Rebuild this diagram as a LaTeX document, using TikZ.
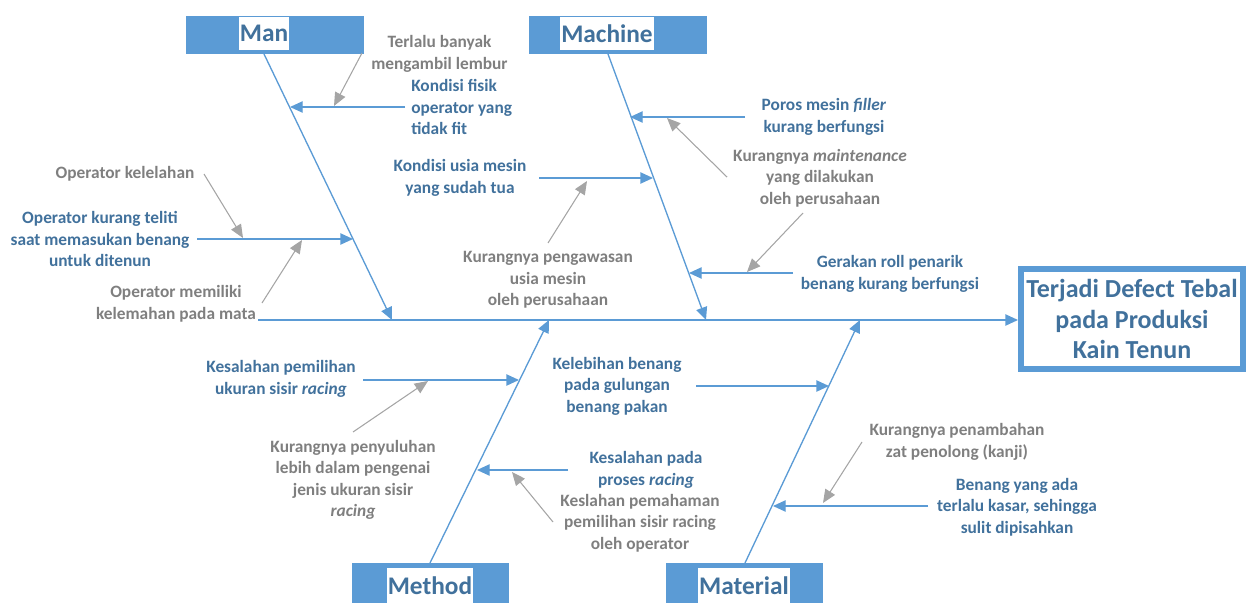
\documentclass[tikz,border=0pt]{standalone}
\usepackage{fontspec}
\setmainfont{Carlito}
\usetikzlibrary{arrows.meta}
\definecolor{bline}{HTML}{5B9BD5}
\definecolor{btext}{HTML}{41719C}
\definecolor{gtext}{HTML}{7F7F7F}
\definecolor{gline}{HTML}{A5A5A5}
\tikzset{
  cause/.style={font=\fontsize{13}{16.1}\selectfont\bfseries, text=btext, align=center, inner sep=0pt},
  sub/.style={cause, text=gtext},
  bone/.style={draw=bline, line width=1pt, -{Triangle[length=9.5pt,width=8.5pt,fill=bline]}},
  gar/.style={draw=gline, line width=0.8pt, -{Triangle[length=10pt,width=8.5pt,fill=gline]}},
  catbox/.style={fill=bline, draw=none, inner sep=0pt},
  catlabel/.style={fill=white, text=btext, font=\fontsize{19}{22}\selectfont\bfseries, inner xsep=1pt, inner ysep=0pt, minimum height=24.75pt},
}
\begin{document}
\begin{tikzpicture}[x=0.75pt,y=-0.75pt]
\useasboundingbox (0,0) rectangle (1247,603);

% category boxes
\node[catbox, minimum width=133.5pt, minimum height=28.5pt] (manbox) at (275,35) {};
\node[catlabel] (manlbl) at (264,33.5) {Man};
\node[catbox, minimum width=133.5pt, minimum height=28.5pt] (machbox) at (618,35) {};
\node[catlabel] (machlbl) at (607,33.5) {Machine};
\node[catbox, minimum width=117.75pt, minimum height=31.5pt] (methbox) at (430.5,584) {};
\node[catlabel, minimum height=27pt] (methlbl) at (430,586) {Method};
\node[catbox, minimum width=117.75pt, minimum height=31.5pt] (matbox) at (744.5,584) {};
\node[catlabel, minimum height=27pt] (matlbl) at (744,586) {Material};

% effect
\node[draw=bline, line width=4.5pt, minimum width=166.5pt, minimum height=75pt, text=btext,
      font=\fontsize{19.5}{22.9}\selectfont\bfseries, align=center, inner sep=0pt] (effect) at (1132,319)
  {Terjadi Defect Tebal\\pada Produksi\\Kain Tenun};

% spine
\coordinate (spS) at (258,320);
\draw[bone] (spS) -- (spS -| effect.west);

% main bones
\coordinate (manS) at (264,54);  \coordinate (manE) at (392,320);
\coordinate (machS) at (608,54); \coordinate (machE) at (706,320);
\coordinate (methS) at (430,563); \coordinate (methE) at (549,320);
\coordinate (matS) at (745,563);  \coordinate (matE) at (860,320);
\draw[bone] (manS) -- (manE);
\draw[bone] (machS) -- (machE);
\draw[bone] (methS) -- (methE);
\draw[bone] (matS) -- (matE);

% ---- Man ----
\node[sub] (terlalu) at (439.5,54) {Terlalu banyak\\mengambil lembur};
\node[cause, align=left, anchor=west] (kondisi) at (411,107) {Kondisi fisik\\operator yang\\tidak fit};
\coordinate (k1s) at (405,107); \coordinate (k1t) at (290,107);
\draw[bone] (k1s) -- (k1t);
\coordinate (g1s) at (362,53); \coordinate (g1t) at (334,106);
\draw[gar] (g1s) -- (g1t);

\node[cause] (teliti) at (100,239) {Operator kurang teliti\\saat memasukan benang\\untuk ditenun};
\coordinate (k2s) at (197,239); \coordinate (k2t) at (353,239);
\draw[bone] (k2s) -- (k2t);
\node[sub] (lelah) at (125,174) {Operator kelelahan};
\coordinate (g2s) at (204,174); \coordinate (g2t) at (243,238);
\draw[gar] (g2s) -- (g2t);
\node[sub] (mata) at (176,304) {Operator memiliki\\kelemahan pada mata};
\coordinate (g3s) at (262,303); \coordinate (g3t) at (302,240);
\draw[gar] (g3s) -- (g3t);

% ---- Machine ----
\node[cause] (poros) at (824,117) {Poros mesin \textit{filler}\\kurang berfungsi};
\coordinate (k3s) at (745,117); \coordinate (k3t) at (630,117);
\draw[bone] (k3s) -- (k3t);
\node[sub] (maint) at (820,178) {Kurangnya \textit{maintenance}\\yang dilakukan\\oleh perusahaan};
\coordinate (g4s) at (727,177); \coordinate (g4t) at (667,118);
\draw[gar] (g4s) -- (g4t);

\node[cause] (usia) at (460,178) {Kondisi usia mesin\\yang sudah tua};
\coordinate (k4s) at (539,178); \coordinate (k4t) at (653,178);
\draw[bone] (k4s) -- (k4t);
\node[sub] (awas) at (548,280) {Kurangnya pengawasan\\usia mesin\\oleh perusahaan};
\coordinate (g5s) at (548,243); \coordinate (g5t) at (587,181);
\draw[gar] (g5s) -- (g5t);

\node[cause] (roll) at (890,274) {Gerakan roll penarik\\benang kurang berfungsi};
\coordinate (k5s) at (793,273); \coordinate (k5t) at (689,273);
\draw[bone] (k5s) -- (k5t);
\coordinate (g6s) at (803,213); \coordinate (g6t) at (747,272);
\draw[gar] (g6s) -- (g6t);

% ---- Method ----
\node[cause] (pilih) at (281,379) {Kesalahan pemilihan\\ukuran sisir \textit{racing}};
\coordinate (k6s) at (363,380); \coordinate (k6t) at (519,380);
\draw[bone] (k6s) -- (k6t);
\node[sub] (suluh) at (353,480) {Kurangnya penyuluhan\\lebih dalam pengenai\\jenis ukuran sisir\\\textit{racing}};
\coordinate (g7s) at (353,432); \coordinate (g7t) at (428,381);
\draw[gar] (g7s) -- (g7t);

\node[cause] (proses) at (646,470) {Kesalahan pada\\proses \textit{racing}};
\coordinate (k7s) at (568,470); \coordinate (k7t) at (477,470);
\draw[bone] (k7s) -- (k7t);
\node[sub] (paham) at (640,523) {Keslahan pemahaman\\pemilihan sisir racing\\oleh operator};
\coordinate (g8s) at (553,522); \coordinate (g8t) at (512,472);
\draw[gar] (g8s) -- (g8t);

% ---- Material ----
\node[cause] (lebih) at (617,386) {Kelebihan benang\\pada gulungan\\benang pakan};
\coordinate (k8s) at (696,386); \coordinate (k8t) at (829,386);
\draw[bone] (k8s) -- (k8t);
\node[sub] (kanji) at (957,442) {Kurangnya penambahan\\zat penolong (kanji)};
\coordinate (g9s) at (862,442); \coordinate (g9t) at (823,503);
\draw[gar] (g9s) -- (g9t);
\node[cause] (kasar) at (1017,507) {Benang yang ada\\terlalu kasar, sehingga\\sulit dipisahkan};
\coordinate (k9s) at (928,506); \coordinate (k9t) at (773,506);
\draw[bone] (k9s) -- (k9t);
\end{tikzpicture}
\end{document}
